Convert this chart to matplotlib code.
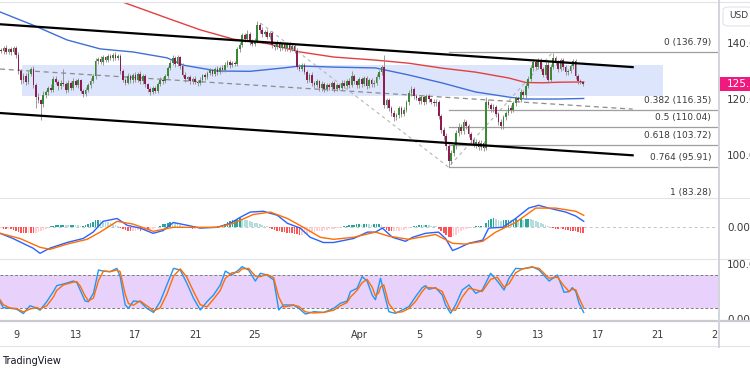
import numpy as np
import pandas as pd
import matplotlib
matplotlib.use("Agg")
import matplotlib.pyplot as plt
import matplotlib.dates as mdates
import matplotlib.transforms as mtransforms
from matplotlib.patches import Rectangle, FancyBboxPatch
from matplotlib.lines import Line2D

# ---- data (4h candles from 8 Mar 2025, days counted from 1 Mar) ----
first_open = 137.6
closes = [
    137.2, 138.4, 136.9, 137.8, 136.8, 138.3,   # Mar 8
    135.8, 130.2, 126.8, 128.4, 126.2, 129.0,   # Mar 9
    131.0, 125.2, 121.0, 119.6, 118.2, 121.4,   # Mar 10
    122.6, 124.2, 123.4, 127.4, 126.2, 124.6,   # Mar 11
    126.0, 125.4, 123.4, 126.0, 124.2, 126.6,   # Mar 12
    125.2, 126.8, 123.0, 121.8, 123.4, 125.0,   # Mar 13
    126.6, 128.2, 133.6, 134.4, 133.2, 135.0,   # Mar 14
    134.0, 135.4, 134.6, 136.0, 134.8, 135.6,   # Mar 15
    130.0, 127.0, 126.0, 128.4, 126.8, 128.6,   # Mar 16
    127.0, 129.2, 126.4, 128.2, 125.4, 123.8,   # Mar 17
    122.6, 124.0, 123.0, 125.6, 127.0, 126.4,   # Mar 18
    128.4, 131.2, 133.0, 134.8, 132.6, 135.0,   # Mar 19
    132.0, 128.8, 127.2, 127.8, 126.4, 127.4,   # Mar 20
    126.2, 125.8, 127.0, 128.6, 127.8, 129.4,   # Mar 21
    130.4, 129.2, 130.8, 129.6, 131.2, 130.6,   # Mar 22
    132.4, 133.2, 132.2, 133.0, 132.6, 137.8,   # Mar 23
    139.4, 142.8, 141.6, 143.4, 140.6, 139.8,   # Mar 24
    141.0, 146.4, 144.6, 143.2, 144.0, 142.4,   # Mar 25
    143.6, 139.4, 138.6, 140.2, 138.4, 139.6,   # Mar 26
    138.2, 139.6, 137.8, 139.0, 137.4, 131.6,   # Mar 27
    131.0, 132.2, 129.6, 127.0, 128.8, 125.8,   # Mar 28
    125.2, 126.4, 124.0, 125.6, 123.8, 125.2,   # Mar 29
    124.4, 125.8, 123.6, 125.0, 124.2, 126.0,   # Mar 30
    124.8, 126.6, 125.0, 128.2, 126.4, 125.0,   # Mar 31
    127.2, 125.4, 127.6, 124.8, 126.8, 125.4,   # Apr 1
    126.0, 128.0, 129.6, 131.4, 118.0, 119.6,   # Apr 2
    117.0, 115.2, 113.6, 114.4, 116.8, 114.8,   # Apr 3
    116.2, 119.0, 122.2, 123.8, 121.2, 120.6,   # Apr 4
    119.4, 120.8, 119.0, 121.2, 120.0, 119.2,   # Apr 5
    118.6, 119.2, 114.0, 109.2, 106.8, 103.2,   # Apr 6
    98.0, 100.8, 103.6, 107.8, 110.2, 108.6,    # Apr 7
    111.8, 110.4, 107.6, 105.4, 103.8, 104.8,   # Apr 8
    102.8, 104.4, 102.6, 119.2, 118.0, 116.4,   # Apr 9
    117.4, 114.8, 112.0, 110.4, 113.6, 115.2,   # Apr 10
    117.0, 116.2, 118.6, 120.4, 119.8, 122.6,   # Apr 11
    121.4, 124.8, 127.4, 131.2, 133.4, 131.6,   # Apr 12
    133.8, 131.0, 128.6, 132.4, 127.0, 131.6,   # Apr 13
    134.6, 133.2, 130.8, 134.0, 131.4, 129.6,   # Apr 14
    130.2, 131.8, 133.6, 128.4, 126.4, 126.2,   # Apr 15
    125.5,                                      # Apr 16
]
wick_up = [
    0.8, 0.6, 1.0, 0.5, 0.9, 0.7,
    0.6, 1.2, 0.8, 1.0, 0.9, 1.1,
    0.7, 1.0, 0.8, 1.2, 0.6, 1.4,
    0.9, 0.7, 1.1, 0.8, 1.0, 0.6,
    0.8, 5.0, 0.7, 0.9, 0.6, 1.0,
    0.7, 0.9, 0.6, 0.8, 1.0, 0.7,
    0.9, 0.8, 1.1, 0.7, 1.0, 0.8,
    0.6, 0.9, 0.7, 0.5, 0.8, 0.6,
    0.7, 0.9, 0.6, 1.0, 0.8, 0.7,
    1.0, 0.6, 0.9, 0.7, 0.8, 0.6,
    0.7, 0.9, 0.8, 0.6, 1.0, 0.9,
    0.8, 0.7, 1.0, 0.9, 0.7, 0.8,
    0.6, 0.9, 0.8, 0.7, 0.9, 0.6,
    0.8, 0.7, 0.9, 0.6, 0.8, 0.7,
    0.9, 0.6, 0.8, 1.0, 0.7, 0.9,
    0.8, 0.7, 0.9, 0.6, 0.8, 1.0,
    0.9, 1.0, 0.8, 1.2, 0.7, 0.9,
    1.0, 1.6, 0.9, 1.1, 0.8, 1.0,
    0.9, 0.8, 0.7, 1.0, 0.8, 0.9,
    0.7, 0.9, 0.8, 0.6, 0.9, 0.8,
    0.9, 0.8, 0.7, 0.9, 0.6, 0.8,
    0.7, 0.8, 0.6, 0.9, 0.7, 0.8,
    0.6, 0.9, 0.7, 0.8, 0.6, 0.9,
    0.8, 0.7, 0.9, 2.0, 0.8, 0.6,
    0.9, 0.7, 0.8, 0.6, 0.9, 0.7,
    0.8, 0.9, 1.0, 0.8, 4.3, 0.9,
    0.8, 0.7, 0.9, 0.6, 0.8, 0.7,
    0.9, 0.8, 1.0, 0.9, 0.7, 0.8,
    0.7, 0.9, 0.6, 0.8, 0.7, 0.6,
    0.8, 0.9, 0.7, 0.8, 0.9, 1.0,
    0.9, 1.0, 0.8, 1.1, 1.2, 0.9,
    1.0, 0.8, 0.9, 0.7, 0.8, 0.9,
    0.8, 0.9, 0.7, 1.5, 0.9, 0.8,
    0.9, 0.7, 0.8, 0.9, 0.7, 0.8,
    0.8, 0.9, 0.7, 0.8, 0.9, 1.0,
    0.8, 0.9, 1.0, 0.9, 1.1, 0.8,
    0.9, 0.8, 0.7, 1.0, 0.8, 0.9,
    1.8, 0.9, 1.0, 0.8, 0.9, 0.7,
    0.8, 0.9, 0.7, 0.8, 0.6, 0.7,
    0.5,
]
wick_dn = [
    0.7, 0.9, 0.6, 0.8, 1.0, 0.6,
    0.9, 1.1, 1.3, 0.8, 1.0, 0.9,
    0.8, 1.2, 4.0, 1.0, 5.7, 0.9,
    0.8, 1.0, 0.7, 0.9, 0.8, 1.1,
    0.9, 0.7, 1.0, 0.8, 0.9, 0.7,
    0.8, 1.0, 0.9, 1.1, 0.7, 0.8,
    0.9, 0.7, 0.8, 1.0, 0.6, 0.9,
    0.7, 0.8, 0.6, 0.9, 0.7, 0.8,
    1.0, 0.9, 0.8, 0.7, 1.0, 0.8,
    0.7, 0.9, 0.8, 1.0, 0.9, 1.1,
    1.0, 0.8, 0.9, 0.7, 0.8, 0.9,
    0.7, 0.9, 0.8, 0.7, 0.9, 0.8,
    1.0, 0.8, 0.9, 0.7, 1.0, 0.8,
    0.9, 1.0, 0.7, 0.8, 0.9, 0.7,
    0.8, 0.9, 0.7, 0.8, 0.6, 0.9,
    0.7, 0.8, 0.9, 0.7, 0.8, 0.6,
    0.9, 0.8, 1.0, 0.9, 1.1, 0.8,
    0.9, 0.8, 1.0, 0.9, 0.7, 1.0,
    0.8, 1.0, 0.9, 0.8, 1.0, 0.7,
    0.9, 0.8, 1.0, 0.7, 0.9, 0.8,
    0.8, 0.9, 0.7, 1.0, 0.8, 0.9,
    1.0, 0.8, 1.1, 0.9, 1.2, 0.8,
    1.0, 0.9, 1.1, 0.8, 0.9, 0.7,
    0.9, 0.8, 1.0, 0.7, 0.9, 1.0,
    0.8, 0.9, 0.7, 1.0, 0.8, 0.9,
    0.9, 0.8, 0.7, 0.9, 1.0, 1.2,
    1.1, 1.0, 1.3, 0.9, 1.0, 1.1,
    0.9, 0.8, 1.0, 0.9, 1.1, 0.8,
    1.0, 0.9, 1.1, 0.8, 0.9, 1.0,
    0.9, 1.0, 1.2, 1.1, 1.3, 1.2,
    2.2, 1.1, 1.0, 1.2, 0.9, 1.0,
    1.1, 0.9, 1.0, 1.2, 1.0, 1.1,
    1.0, 0.9, 1.1, 0.8, 1.0, 0.9,
    1.0, 1.1, 1.2, 0.9, 1.0, 0.9,
    0.8, 1.0, 0.9, 1.0, 0.8, 0.9,
    0.9, 1.0, 0.8, 0.9, 1.0, 0.8,
    0.9, 1.0, 0.8, 0.9, 1.1, 0.9,
    0.8, 0.9, 1.0, 0.8, 0.9, 1.0,
    0.9, 0.8, 0.9, 1.0, 0.8, 0.7,
    0.6,
]
macd_hist = [
    -0.10, -0.15, -0.20, -0.20, -0.25, -0.30,
    -0.40, -0.55, -0.65, -0.70, -0.72, -0.68,
    -0.70, -0.75, -0.70, -0.60, -0.50, -0.35,
    -0.20, -0.05, 0.10, 0.20, 0.25, 0.30,
    0.30, 0.32, 0.30, 0.28, 0.30, 0.32,
    0.30, 0.25, 0.20, 0.22, 0.30, 0.38,
    0.50, 0.70, 0.85, 0.90, 0.88, 0.80,
    0.70, 0.60, 0.50, 0.40, 0.30, 0.15,
    -0.05, -0.20, -0.35, -0.40, -0.45, -0.45,
    -0.40, -0.38, -0.40, -0.35, -0.30, -0.35,
    -0.30, -0.20, -0.10, 0.05, 0.20, 0.35,
    0.45, 0.55, 0.60, 0.55, 0.50, 0.45,
    0.30, 0.15, 0.05, -0.05, -0.10, -0.15,
    -0.15, -0.10, -0.05, 0.00, 0.05, 0.05,
    0.05, 0.00, 0.05, 0.10, 0.15, 0.30,
    0.45, 0.60, 0.75, 0.85, 0.95, 1.05,
    1.10, 1.00, 0.90, 0.85, 0.75, 0.60,
    0.55, 0.50, 0.40, 0.30, 0.20, 0.10,
    -0.05, -0.20, -0.30, -0.40, -0.50, -0.55,
    -0.60, -0.65, -0.70, -0.75, -0.80, -0.85,
    -0.90, -0.90, -0.85, -0.80, -0.75, -0.65,
    -0.55, -0.50, -0.45, -0.40, -0.35, -0.30,
    -0.25, -0.20, -0.15, -0.10, -0.05, 0.05,
    0.10, 0.20, 0.25, 0.30, 0.30, 0.35,
    0.35, 0.30, 0.35, 0.40, 0.35, 0.30,
    0.35, 0.40, 0.45, 0.30, -0.10, -0.30,
    -0.40, -0.50, -0.50, -0.45, -0.40, -0.35,
    -0.30, -0.20, -0.10, 0.05, 0.15, 0.20,
    0.25, 0.30, 0.25, 0.30, 0.25, 0.20,
    0.15, 0.10, -0.20, -0.50, -0.75, -0.95,
    -1.15, -1.20, -1.10, -0.90, -0.70, -0.50,
    -0.30, -0.20, -0.10, -0.05, 0.05, 0.10,
    0.10, 0.15, 0.10, 0.55, 0.90, 1.05,
    1.10, 1.00, 0.90, 0.80, 0.85, 0.90,
    0.95, 0.90, 0.95, 1.00, 0.95, 1.00,
    0.95, 1.00, 1.05, 1.00, 0.95, 0.80,
    0.65, 0.50, 0.35, 0.25, 0.10, 0.00,
    -0.10, -0.15, -0.20, -0.20, -0.25, -0.30,
    -0.35, -0.40, -0.45, -0.50, -0.60, -0.65,
    -0.70,
]

# moving averages
ma_red_days = [13.64, 15.32, 16.99, 18.13, 20.35, 22.56, 24.85, 27.05, 29.28,
               32.09, 34.31, 36.59, 38.81, 41.03, 42.16, 43.30, 44.38, 46.05]
ma_red = [157.6, 154.4, 151.2, 149.0, 144.8, 141.5, 139.9, 136.9, 135.1,
          134.0, 132.9, 131.1, 129.7, 127.6, 126.0, 125.9, 126.1, 126.2]
ma_blue_days = [6.93, 9.14, 11.42, 13.64, 15.85, 18.13, 19.21, 21.49, 23.70, 25.92,
                27.05, 29.28, 32.09, 34.31, 36.59, 38.81, 41.03, 42.16, 44.38, 46.05]
ma_blue = [151.2, 146.5, 141.2, 138.0, 136.9, 134.8, 132.2, 130.1, 130.0, 131.2,
           131.9, 131.5, 131.2, 128.7, 125.8, 122.6, 120.8, 120.1, 120.1, 120.3]

# drawings
channel_days = [6.93, 49.33]
channel_upper = [146.8, 131.5]
channel_lower = [115.1, 100.0]
dashed_support = [130.8, 116.5]
swing_days = [24.38, 36.99, 43.97]
swing_prices = [147.25, 95.8, 136.79]
zone_days = [8.38, 51.36]
zone_prices = [121.2, 132.2]
fib_start_day = 36.99
fib_levels = [0, 0.382, 0.5, 0.618, 0.764, 1]
fib_prices = [136.79, 116.35, 110.04, 103.72, 95.91, 83.28]
last_price = 125.5

# MACD lines
macd_days = [6.93, 7.80, 8.74, 9.14, 9.61, 10.28, 11.42, 12.50, 13.17, 13.84,
             14.78, 15.45, 16.32, 17.19, 17.87, 18.54, 19.48, 20.35, 21.49, 22.36,
             23.03, 23.70, 24.58, 25.52, 26.19, 27.05, 27.72, 28.60, 29.28, 30.62,
             31.56, 32.09, 32.56, 33.23, 34.11, 34.58, 35.45, 36.32, 36.79, 37.26,
             37.66, 38.34, 39.28, 39.68, 40.62, 41.49, 42.36, 43.03, 43.70, 44.85,
             45.52, 46.05]
macd_line = [-0.75, -1.4, -2.25, -2.6, -3.25, -2.6, -1.9, -1.4, -0.6, 0.75,
             1.1, 0.25, -0.1, -0.75, -0.4, 0.6, 0.25, -0.1, 0.0, 0.5,
             1.25, 1.9, 2.0, 1.5, 0.5, -0.1, -1.25, -1.9, -1.9, -1.4,
             -0.6, -0.6, -0.1, -1.25, -1.75, -1.25, -0.75, -0.6, -1.4, -2.9,
             -2.6, -2.0, -1.6, -0.1, 0.0, 1.1, 2.4, 2.75, 2.4, 1.9,
             1.4, 0.75]
signal_days = [6.93, 8.27, 9.61, 10.28, 11.42, 12.77, 13.64, 14.78, 15.85, 17.19,
               18.54, 19.88, 21.49, 22.56, 23.91, 25.05, 26.19, 27.26, 28.40, 29.28,
               30.62, 32.09, 32.97, 34.31, 36.12, 37.26, 38.13, 39.28, 40.15, 41.49,
               42.83, 44.17, 45.52, 46.05]
signal_line = [-0.75, -1.4, -2.5, -2.75, -2.1, -1.5, -0.6, 0.75, 0.4, -0.5,
               0.0, 0.0, 0.0, 0.5, 1.6, 1.9, 1.1, 0.0, -1.25, -1.5,
               -1.25, -0.6, -1.1, -1.5, -0.9, -2.0, -2.1, -1.75, -0.6, 0.6,
               2.4, 2.4, 2.0, 1.5]

# Stoch RSI
stoch_days = [6.93, 7.15, 7.60, 8.04, 8.49, 8.94, 9.39, 9.61, 10.06, 10.51,
              10.73, 11.18, 11.85, 12.07, 12.30, 12.63, 12.85, 13.19, 13.53, 13.86,
              14.31, 14.76, 14.98, 15.32, 15.54, 15.87, 16.32, 16.77, 17.22, 17.66,
              18.11, 18.56, 19.01, 19.45, 19.90, 20.35, 20.80, 21.24, 21.69, 22.03,
              22.47, 22.92, 23.15, 23.59, 24.04, 24.38, 24.82, 25.27, 25.61, 25.94,
              26.61, 26.95, 27.40, 27.96, 28.63, 29.30, 29.74, 30.19, 30.42, 30.86,
              31.20, 31.53, 31.87, 32.09, 32.32, 32.43, 32.65, 32.99, 33.44, 33.88,
              34.33, 34.78, 35.23, 35.45, 35.67, 36.12, 36.57, 36.79, 37.13, 37.46,
              37.91, 38.36, 38.81, 39.25, 39.81, 40.26, 40.71, 41.04, 41.49, 41.94,
              42.61, 43.06, 43.73, 44.29, 44.73, 45.07, 45.29, 45.52, 45.74, 46.05]
stoch_k = [31.5, 20.6, 19.4, 18.0, 10.0, 24.0, 20.0, 16.0, 31.5, 50.0,
           60.6, 63.6, 69.0, 66.7, 52.7, 32.7, 31.5, 46.7, 89.0, 87.0,
           86.0, 92.0, 77.0, 25.5, 19.4, 32.7, 31.5, 19.4, 12.0, 31.5,
           61.8, 92.0, 89.0, 65.0, 37.6, 16.4, 31.5, 43.6, 61.8, 87.0,
           80.0, 89.0, 95.0, 89.0, 69.0, 83.0, 80.0, 71.0, 16.4, 25.5,
           25.5, 19.4, 9.0, 13.3, 12.0, 19.4, 28.5, 32.7, 50.0, 55.8,
           77.0, 69.0, 43.6, 35.0, 61.8, 74.0, 49.7, 13.3, 10.3, 16.4,
           22.4, 40.6, 57.0, 60.6, 54.0, 57.0, 43.6, 25.5, 10.3, 25.5,
           52.7, 61.8, 46.7, 52.7, 83.0, 69.0, 52.7, 74.0, 92.0, 91.0,
           95.0, 89.0, 69.0, 80.0, 48.5, 49.7, 57.0, 49.7, 28.5, 12.0]
stoch_d = [35, 26, 20, 19, 13, 18, 21, 18, 24, 40,
           52, 62, 67, 68, 60, 42, 33, 38, 70, 87,
           86, 89, 86, 45, 28, 25, 33, 24, 15, 20,
           45, 78, 91, 76, 50, 26, 22, 36, 52, 74,
           84, 85, 91, 92, 78, 77, 81, 75, 40, 22,
           25, 23, 13, 11, 12, 16, 24, 30, 40, 52,
           66, 72, 58, 42, 48, 58, 62, 28, 12, 13,
           19, 32, 50, 57, 57, 56, 50, 36, 16, 16,
           40, 56, 53, 50, 72, 76, 58, 64, 84, 91,
           94, 92, 74, 76, 60, 50, 54, 53, 38, 20]

tick_days = [8, 12, 16, 20, 24, 31, 35, 39, 43, 47, 51, 55]
tick_labels = ["9", "13", "17", "21", "25", "Apr", "5", "9", "13", "17", "21", "25"]

# ---- figure ----
W, H = 750, 375
base = mdates.date2num(pd.Timestamp("2025-03-01"))
def d(days):
    return base + np.asarray(days, dtype=float)

fig = plt.figure(figsize=(7.5, 3.75), dpi=100)
fig.patch.set_facecolor("white")
pw = 718 / W
ax = fig.add_axes([0, 1 - 198 / H, pw, 196 / H])
axm = fig.add_axes([0, 1 - 259 / H, pw, 61 / H], sharex=ax)
axs = fig.add_axes([0, 1 - 320 / H, pw, 61 / H], sharex=ax)

for a in (ax, axm, axs):
    for s in a.spines.values():
        s.set_visible(False)
    a.yaxis.tick_right()
    a.tick_params(axis="y", length=0, pad=6.5, labelsize=7.5, labelcolor="#3a3a3a")
    a.tick_params(axis="x", length=0)
ax.tick_params(labelbottom=False)
axm.tick_params(labelbottom=False)

ax.set_xlim(d(6.928), d(55.05))
ax.set_ylim(84.75, 154.75)
axm.set_ylim(-3.96, 3.66)
axs.set_ylim(-1.8, 109)

# candles
n = len(closes)
cx = d(7.0 + np.arange(n) / 6.0)
c = np.array(closes)
o = np.array([first_open] + closes[:-1])
hi = np.maximum(o, c) + np.array(wick_up)
lo = np.minimum(o, c) - np.array(wick_dn)
up = c >= o
body_col = np.where(up, "#3a8a35", "#8e1c52")
ax.vlines(cx, lo, hi, color="#8a8a8a", lw=0.6, zorder=3)
ax.bar(cx, np.maximum(np.abs(c - o), 0.25), bottom=np.minimum(o, c), width=0.115,
       color=body_col, linewidth=0, zorder=4)

# zone, MAs, drawings
ax.add_patch(Rectangle((d(zone_days[0]), zone_prices[0]), zone_days[1] - zone_days[0],
                       zone_prices[1] - zone_prices[0], facecolor="#dde5fc",
                       edgecolor="none", zorder=0.5))
ax.plot(d(ma_red_days), ma_red, color="#e2403f", lw=1.0, zorder=2)
ax.plot(d(ma_blue_days), ma_blue, color="#3f6fd8", lw=1.0, zorder=2)
ax.plot(d(channel_days), dashed_support, color="#8c8c8c", lw=0.9, ls=(0, (4, 3)), zorder=2)
ax.plot(d(swing_days), swing_prices, color="#b5b5b5", lw=0.8, ls=(0, (3, 3)), zorder=2)
ax.plot(d(channel_days), channel_upper, color="black", lw=1.6, zorder=5)
ax.plot(d(channel_days), channel_lower, color="black", lw=1.6, zorder=5)

trans = mtransforms.blended_transform_factory(ax.transAxes, ax.transData)
for lvl, p in zip(fib_levels, fib_prices):
    ax.plot([d(fib_start_day), d(60)], [p, p], color="#9e9e9e", lw=0.9, zorder=2)
    ax.annotate(f"{lvl:g} ({p:.2f})", xy=(711 / 718, p), xycoords=trans,
                xytext=(0, 3.5), textcoords="offset points", ha="right", va="bottom",
                fontsize=6.5, color="#3a3a3a", annotation_clip=False)

ax.set_yticks([100, 120, 140])
ax.set_yticklabels(["100.0", "120.0", "140.0"])

# last price tag
ax.add_patch(Rectangle((1.0, last_price - 2.6), 0.06, 5.2, transform=trans,
                       facecolor="#f0197d", edgecolor="none", clip_on=False, zorder=10))
ax.text(1.0 + 9 / 718, last_price, f"{last_price:.1f}", transform=trans, ha="left",
        va="center", fontsize=7.5, color="white", zorder=11, clip_on=False)

# MACD
hcol = []
for i, h in enumerate(macd_hist):
    prev = macd_hist[i - 1] if i else h
    if h >= 0:
        hcol.append("#26a69a" if h >= prev else "#b2dfdb")
    else:
        hcol.append("#ff5252" if h < prev else "#ffcdd2")
axm.bar(cx, macd_hist, width=0.11, color=hcol, linewidth=0, zorder=2)
axm.axhline(0, color="#c4c4c4", lw=0.7, ls=(0, (3, 3)), zorder=1)
axm.plot(d(macd_days), macd_line, color="#2962ff", lw=1.0, zorder=3)
axm.plot(d(signal_days), signal_line, color="#ff6d00", lw=1.0, zorder=3)
axm.set_yticks([0])
axm.set_yticklabels(["0.00"])

# Stoch RSI
axs.axhspan(20, 80, color="#e8d2fb", zorder=0, lw=0)
for lv in (20, 80):
    axs.axhline(lv, color="#7d7d86", lw=0.7, ls=(0, (3, 2)), zorder=1)
axs.plot(d(stoch_days), stoch_k, color="#2196f3", lw=1.0, zorder=3)
axs.plot(d(stoch_days), stoch_d, color="#ff6d00", lw=1.0, zorder=3)
axs.set_yticks([0, 100])
axs.set_yticklabels(["0.00", "100.0"])

axs.set_xticks(d(tick_days))
axs.set_xticklabels(tick_labels)
axs.tick_params(axis="x", labelsize=7, labelcolor="#3a3a3a", pad=7)

# cover the time labels and the cut value under the price scale
fig.add_artist(Rectangle((718 / W, 1 - 346 / H), 32 / W, 25.5 / H, transform=fig.transFigure,
                         facecolor="white", edgecolor="none", zorder=5))

# separators
def hline(y, x0=0, x1=W, col="#e0e3eb", lw=0.8):
    fig.add_artist(Line2D([x0 / W, x1 / W], [1 - y / H, 1 - y / H], color=col, lw=lw, zorder=6))
hline(2)
hline(198)
hline(259)
hline(320.5, col="#c9cbd1", lw=1.6)
hline(346)
fig.add_artist(Line2D([718.5 / W, 718.5 / W], [1 - 347 / H, 1], color="#d1d4dc", lw=1.4, zorder=6))

# USD box
fig.add_artist(FancyBboxPatch((723 / W, 1 - 26 / H), 30 / W, 19 / H,
                              boxstyle="round,pad=0,rounding_size=0.008",
                              transform=fig.transFigure, facecolor="white",
                              edgecolor="#e0e3eb", lw=0.8, zorder=6))
fig.text(729 / W, 1 - 16 / H, "USD", fontsize=6.5, color="#3a3a3a", va="center", zorder=7)

fig.text(2 / W, 1 - 361 / H, "TradingView", fontsize=7, color="#131722", va="center")

fig.savefig("out.png", dpi=100)
